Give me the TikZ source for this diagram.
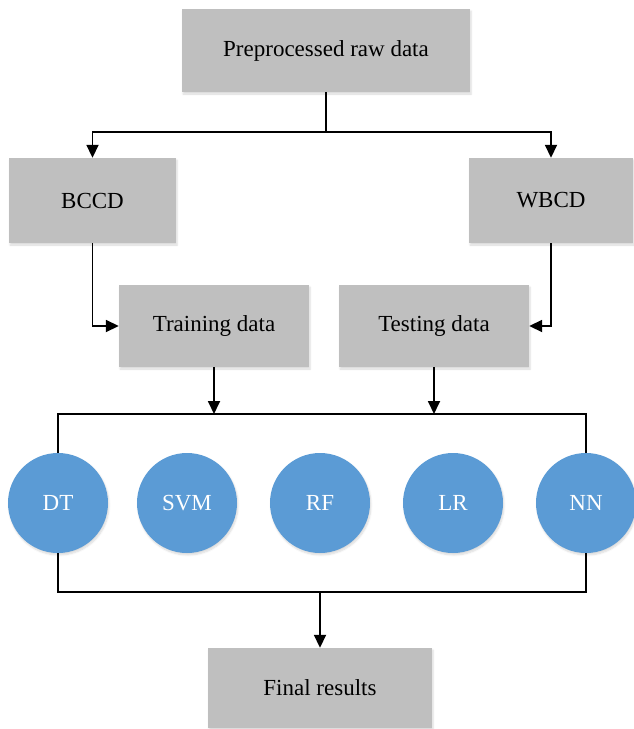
\documentclass[tikz,border=0pt]{standalone}
\usepackage{fontspec}
\setmainfont{Liberation Serif}
\usetikzlibrary{arrows.meta,shadows.blur}
\definecolor{boxgray}{HTML}{BFBFBF}
\definecolor{circblue}{HTML}{5B9BD5}
\tikzset{
  graybox/.style={draw=none, fill=boxgray, inner sep=0pt, font=\fontsize{23}{27}\selectfont,
    blur shadow={shadow xshift=1pt, shadow yshift=-2pt, shadow opacity=15, shadow blur steps=6}},
  model/.style={circle, draw=none, fill=circblue, minimum size=100pt, inner sep=0pt,
    text=white, font=\fontsize{23}{27}\selectfont,
    blur shadow={shadow xshift=1pt, shadow yshift=-2pt, shadow opacity=15, shadow blur steps=6}},
  conn/.style={line width=1.8pt, black},
  arr/.style={conn, -{Triangle[length=13pt,width=12pt]}},
}
\begin{document}
\begin{tikzpicture}[x=1pt,y=-1pt]
\useasboundingbox (0,0) rectangle (633,729);
% boxes
\node[graybox, minimum width=288pt, minimum height=83pt] (top) at (326,50.5) {Preprocessed raw data};
\node[graybox, minimum width=167pt, minimum height=85pt] (bccd) at (92.5,200.5) {BCCD};
\node[graybox, minimum width=164pt, minimum height=85pt] (wbcd) at (551,200.5) {WBCD};
\node[graybox, minimum width=190pt, minimum height=82pt] (train) at (214,326) {Training data};
\node[graybox, minimum width=190pt, minimum height=82pt] (test) at (434,326) {Testing data};
\node[graybox, minimum width=224pt, minimum height=80pt] (final) at (320,688) {Final results};
% models
\node[model] (dt) at (58,503) {DT};
\node[model] (svm) at (187,503) {SVM};
\node[model] (rf) at (320,503) {RF};
\node[model] (lr) at (453,503) {LR};
\node[model] (nn) at (586,503) {NN};
% helper coordinates
\coordinate (split) at (326,132);
\coordinate (rtop) at (0,414);
\coordinate (rbot) at (0,592);
% connectors
\draw[conn] (top.south) -- (split);
\draw[arr] (split) -| (bccd.north);
\draw[arr] (split) -| (wbcd.north);
\draw[arr] (bccd.south) |- (train.west);
\draw[arr] (wbcd.south) |- (test.east);
\draw[arr] (train.south) -- (train.south |- rtop);
\draw[arr] (test.south) -- (test.south |- rtop);
\draw[conn] (dt.north) -- (dt.north |- rtop) -- (nn.north |- rtop) -- (nn.north);
\draw[conn] (dt.south) -- (dt.south |- rbot) -- (nn.south |- rbot) -- (nn.south);
\draw[arr] (final.north |- rbot) -- (final.north);
\end{tikzpicture}
\end{document}
